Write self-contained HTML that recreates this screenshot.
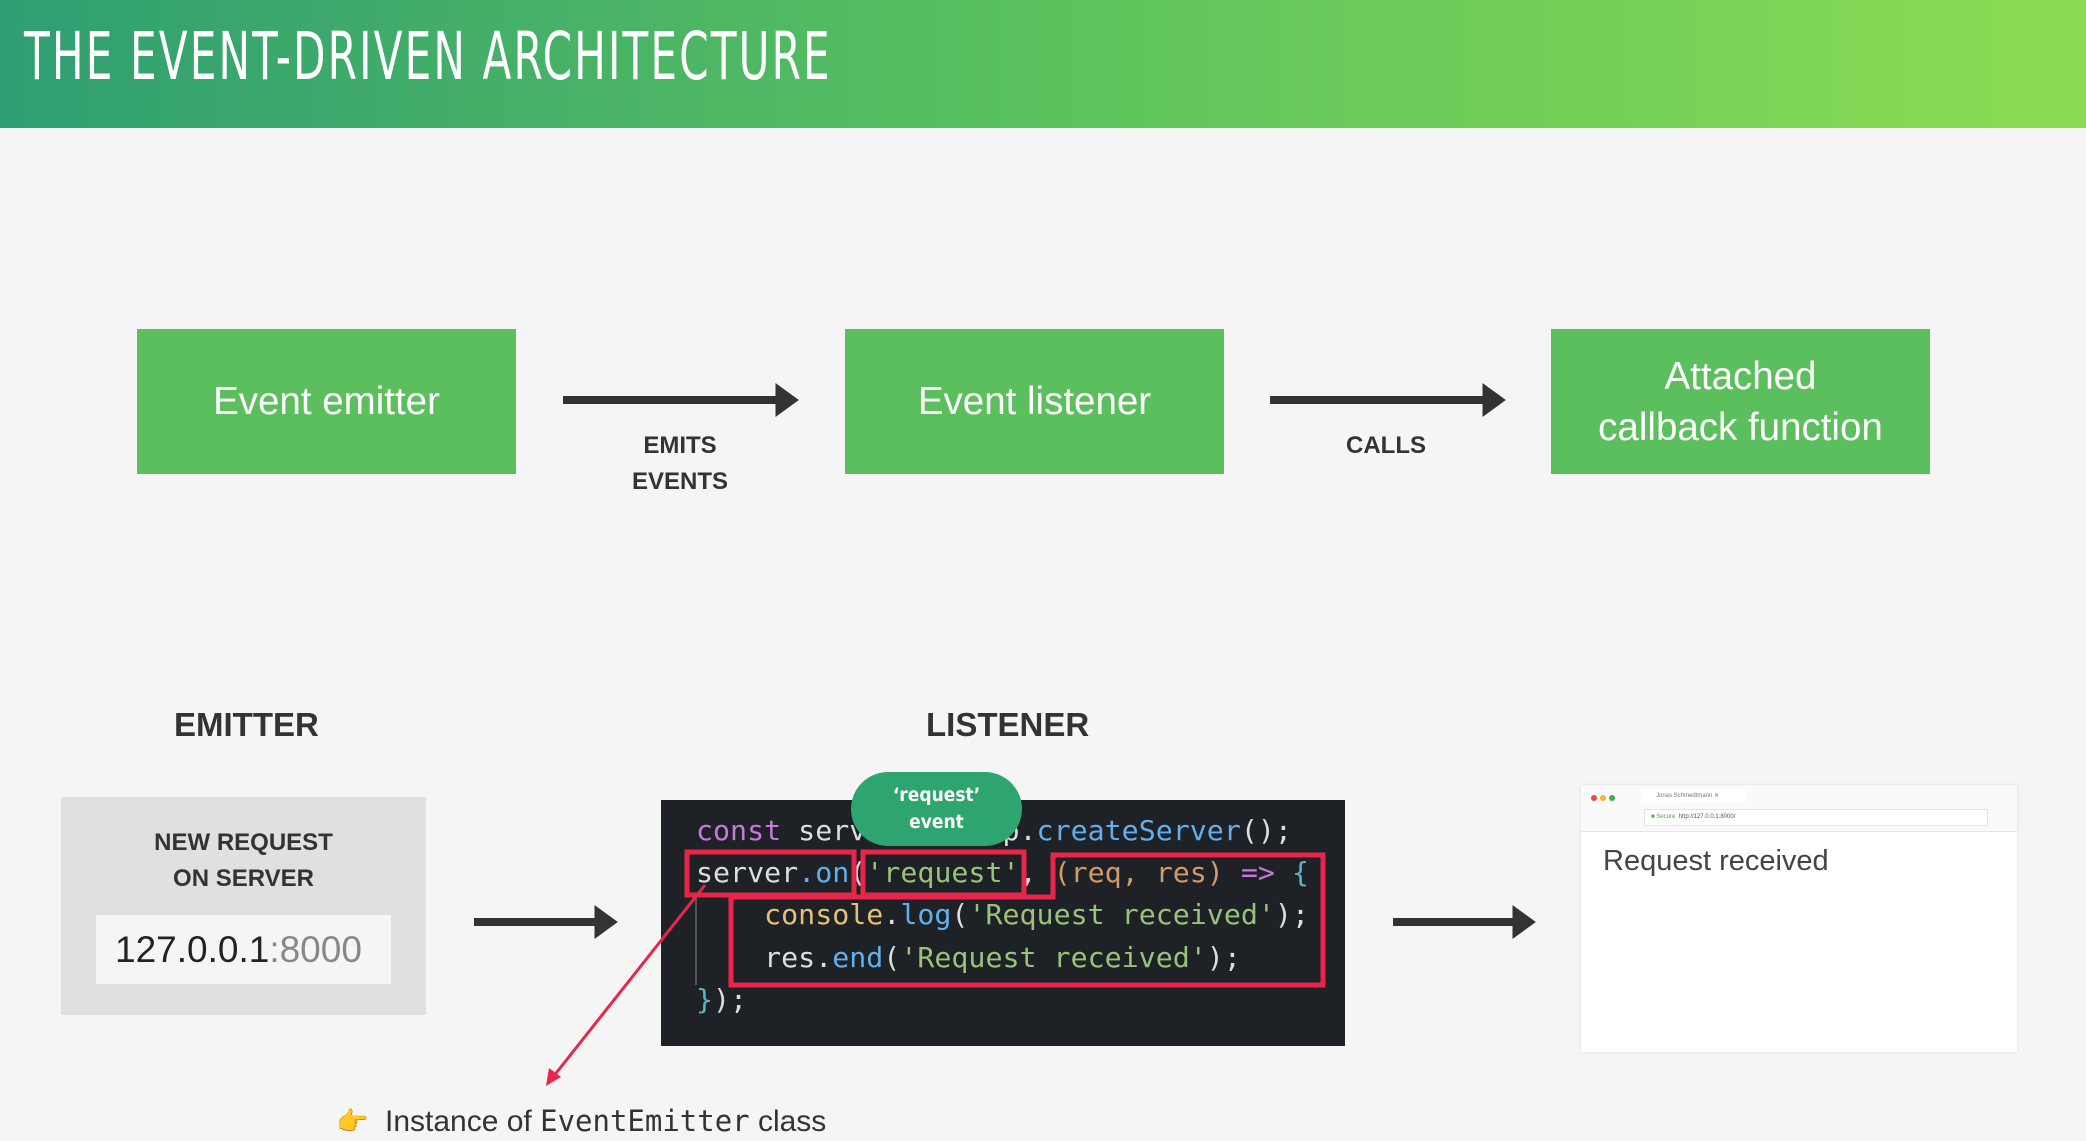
<!DOCTYPE html>
<html><head><meta charset="utf-8"><style>
body{margin:0;width:2086px;height:1141px;background:#f5f5f5;position:relative;overflow:hidden;font-family:"Liberation Sans",sans-serif}
.a{position:absolute}
.hdr{left:0;top:0;width:2086px;height:128px;background:linear-gradient(90deg,#2f9e72,#5cc25e 50%,#8bdc52)}
.title{left:24px;top:18px;color:#fff;font-size:66px;letter-spacing:3px;transform:scaleX(.71);transform-origin:left;white-space:nowrap;font-family:"DejaVu Sans Condensed","Liberation Sans",sans-serif;font-weight:200}
.box{background:#5cbf5d;color:#fff;font-size:38.5px;display:flex;align-items:center;justify-content:center;text-align:center;line-height:51px;top:329px;width:379px;height:145px}
.lbl{color:#333;font-weight:bold;font-size:24px;text-align:center;line-height:36px}
.h{color:#333;font-size:33px;font-weight:bold;font-family:"Liberation Sans",sans-serif}
.code{left:661px;top:800px;width:684px;height:246px;background:#1e2125}
.cl{position:absolute;left:35px;font-family:"DejaVu Sans Mono","Liberation Mono",monospace;font-size:28px;white-space:pre;color:#ddd;transform:scaleX(1.01);transform-origin:left}
.p{color:#c678dd}.b{color:#61afef}.g{color:#98c379}.o{color:#d19a66}.y{color:#e5c07b}.t{color:#56b6c2}
</style></head><body>
<div class="a hdr"></div>
<div class="a title">THE EVENT-DRIVEN ARCHITECTURE</div>

<div class="a box" style="left:137px">Event emitter</div>
<div class="a box" style="left:845px">Event listener</div>
<div class="a box" style="left:1551px">Attached<br>callback function</div>
<div class="a lbl" style="left:580px;width:200px;top:428px">EMITS<br>EVENTS</div>
<div class="a lbl" style="left:1286px;width:200px;top:428px">CALLS</div>

<svg class="a" style="left:0;top:0" width="2086" height="1141">
<g fill="#333" stroke="#333">
<line x1="563" y1="400" x2="778" y2="400" stroke-width="8"/><polygon points="776,384 798,400 776,416"/>
<line x1="1270" y1="400" x2="1485" y2="400" stroke-width="8"/><polygon points="1483,384 1505,400 1483,416"/>
<line x1="474" y1="922" x2="597" y2="922" stroke-width="8"/><polygon points="595,906 617,922 595,938"/>
<line x1="1393" y1="922" x2="1515" y2="922" stroke-width="8"/><polygon points="1513,906 1535,922 1513,938"/>
</g>
</svg>

<div class="a h" style="left:174px;top:706px">EMITTER</div>
<div class="a h" style="left:926px;top:706px">LISTENER</div>

<div class="a" style="left:61px;top:797px;width:365px;height:218px;background:#e0e0e0"></div>
<div class="a lbl" style="left:61px;width:365px;top:825px">NEW REQUEST<br>ON SERVER</div>
<div class="a" style="left:96px;top:915px;width:295px;height:69px;background:#f5f5f5;font-size:37px;line-height:69px;color:#222;text-indent:19px">127.0.0.1<span style="color:#888">:8000</span></div>

<div class="a code">
<div class="cl" style="top:14px"><span class="p">const</span> server = http.<span class="b">createServer</span>();</div>
<div class="cl" style="top:56px">server<span class="b">.on</span>(<span class="g">'request'</span>, <span class="o">(req, res)</span> <span class="p">=&gt;</span> <span class="t">{</span></div>
<div class="cl" style="top:98px">    <span class="y">console</span>.<span class="b">log</span>(<span class="g">'Request received'</span>);</div>
<div class="cl" style="top:141px">    res.<span class="b">end</span>(<span class="g">'Request received'</span>);</div>
<div class="cl" style="top:183px"><span class="t">}</span>);</div>
<div class="a" style="left:34px;top:93px;width:2px;height:92px;background:#555"></div>
</div>

<svg class="a" style="left:0;top:0" width="2086" height="1141">
<g fill="none" stroke="#e8264b" stroke-width="5">
<rect x="687" y="852" width="167" height="43"/>
<rect x="863" y="852" width="161" height="43"/>
<path d="M1053 855 H1323 V985 H731 V897 H1053 Z"/>
<line x1="705" y1="885" x2="553" y2="1077" stroke-width="3"/>
</g>
<polygon points="546,1086 549,1068 561,1077" fill="#e8264b"/>
</svg>
<div class="a" style="left:851px;top:772px;width:171px;height:74px;border-radius:37px;background:#2ea56f;color:#fff;font-weight:bold;text-align:center;font-size:19px;line-height:27px;padding-top:10px;box-sizing:border-box;font-family:'DejaVu Sans Condensed','Liberation Sans',sans-serif">‘request’<br>event</div>

<div class="a" style="left:1581px;top:785px;width:436px;height:267px;background:#fff;box-shadow:0 0 3px #ddd">
<div style="height:46px;border-bottom:1px solid #e5e5e5;background:#fafafa;position:relative">
<span style="position:absolute;left:10px;top:10px;width:6px;height:6px;border-radius:3px;background:#e94b3c;box-shadow:9px 0 #f2b632,18px 0 #37b24d"></span>
<span style="position:absolute;left:60px;top:4px;width:90px;height:14px;background:#fff;font-size:6px;color:#777;line-height:14px;padding-left:15px">Jonas Schmedtmann ✕</span>
<span style="position:absolute;left:63px;top:24px;width:336px;height:15px;border:1px solid #e3e3e3;background:#fff;font-size:6px;line-height:15px;color:#555;padding-left:6px"><span style="color:#4a4">■ Secure</span>&nbsp; http://127.0.0.1:8000/</span>
</div>
<div style="position:absolute;left:22px;top:60px;font-size:29px;color:#444">Request received</div>
</div>

<div class="a" style="left:336px;top:1106px;font-size:26px;color:#f0a020">👉</div>
<div class="a" style="left:385px;top:1104px;font-size:30px;color:#333">Instance of <span style="font-family:'DejaVu Sans Mono','Liberation Mono',monospace;font-size:29px">EventEmitter</span> class</div>
</body></html>
